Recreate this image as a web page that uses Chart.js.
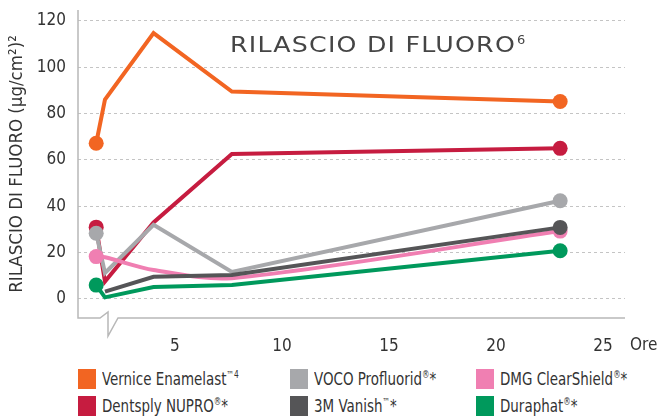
<!DOCTYPE html>
<html>
<head>
<meta charset="utf-8">
<script src="https://cdn.jsdelivr.net/npm/chart.js@4"></script>
<style>
  body { margin: 0; background: #fff; }
  #wrap { position: relative; width: 660px; height: 418px; }
  #box { position: absolute; left: 0; top: 0; width: 660px; height: 360px; }
  .leg { position: absolute; font: 18px "DejaVu Sans Condensed", sans-serif; color: #333; line-height: 20px; white-space: nowrap; }
  .leg i { position: absolute; left: 0; top: 0; width: 18px; height: 20px; }
  .leg span { position: absolute; left: 24px; top: 0; transform: scaleX(0.83); transform-origin: 0 0; }
  .leg sup { font-size: 10px; vertical-align: 7px; line-height: 0; }
</style>
</head>
<body>
<div id="wrap">
  <div id="box"><canvas id="fluoroChart"></canvas></div>
  <div id="legend"></div>
</div>
<script>
// hours after application (x positions)
const hours = [1.32, 1.73, 4, 7.66, 23];

// fluoride release per product
const vernice = [67.2, 86, 114.7, 89.5, 85.2];
const dentsply = [31, 7.5, 33, 62.6, 65];
const voco = [28.4, 11.2, 32, 11.7, 42.4];
const dmg = [18.3, 18, 12.5, 9, 29.3];
const vanish = [null, 3.2, 9.6, 10.4, 30.9];
const duraphat = [6, 0.7, 5.2, 6, 20.8];

const yTicks = [0, 20, 40, 60, 80, 100, 120];
const xTicks = [5, 10, 15, 20, 25];

const narrow = '"DejaVu Sans Condensed", sans-serif';

// series: label html, values, colour, draw order (lower = on top), tension
const series = [
  { name: 'Vernice Enamelast<sup>™4</sup>', data: vernice, color: '#f26522', order: 0, tension: 0, col: 0, row: 0 },
  { name: 'Dentsply NUPRO<sup>®</sup>*', data: dentsply, color: '#c61c40', order: 5, tension: 0, col: 0, row: 1 },
  { name: 'VOCO Profluorid<sup>®</sup>*', data: voco, color: '#a7a8ab', order: 4, tension: 0, col: 1, row: 0 },
  { name: '3M Vanish<sup>™</sup>*', data: vanish, color: '#555557', order: 2, tension: 0, col: 1, row: 1 },
  { name: 'DMG ClearShield<sup>®</sup>*', data: dmg, color: '#f07fb2', order: 3, tension: 0.3, col: 2, row: 0 },
  { name: 'Duraphat<sup>®</sup>*', data: duraphat, color: '#00995c', order: 1, tension: 0, col: 2, row: 1 }
];

function toPoints(vals) {
  return vals.map((v, i) => ({ x: hours[i], y: v }));
}

function markerSizes(vals) {
  // dots only on the first and the last hour
  return vals.map((v, i) => (v !== null && (i === 0 || i === vals.length - 1)) ? 7.5 : 0);
}

// axis line with the break near the origin, title and unit label
const decorations = {
  id: 'decorations',
  beforeDatasetsDraw(chart) {
    const ctx = chart.ctx;
    const a = chart.chartArea;
    ctx.save();
    ctx.strokeStyle = '#b8b8b8';
    ctx.lineWidth = 1.5;
    ctx.beginPath();
    ctx.moveTo(a.left, a.top);
    ctx.lineTo(a.left, a.bottom);
    ctx.lineTo(a.left + 22, a.bottom);
    ctx.lineTo(a.left + 30, a.bottom - 6);
    ctx.lineTo(a.left + 30, a.bottom + 18);
    ctx.lineTo(a.left + 40, a.bottom);
    ctx.lineTo(a.right, a.bottom);
    ctx.stroke();
    ctx.restore();
  },
  afterDraw(chart) {
    const ctx = chart.ctx;
    const a = chart.chartArea;
    ctx.save();
    ctx.fillStyle = '#454545';
    ctx.textBaseline = 'alphabetic';
    const t = 'RILASCIO DI FLUORO';
    ctx.font = '400 21px "DejaVu Sans", sans-serif';
    ctx.letterSpacing = '1px';
    // stretch the heading to the width of the original (wide geometric face)
    const w = ctx.measureText(t).width;
    const sx = 286 / w;
    ctx.save();
    ctx.translate(230, 52);
    ctx.scale(sx, 1);
    ctx.fillText(t, 0, 0);
    ctx.restore();
    ctx.font = '400 13px "DejaVu Sans", sans-serif';
    ctx.letterSpacing = '0px';
    ctx.fillText('6', 230 + 286 + 1, 44);
    // unit label after the last tick
    ctx.fillStyle = '#333';
    ctx.font = '17px ' + narrow;
    ctx.textBaseline = 'middle';
    ctx.fillText('Ore', a.right + 5, a.bottom + 28);
    ctx.restore();
  }
};

const ctx = document.getElementById('fluoroChart');

new Chart(ctx, {
  type: 'line',
  data: {
    datasets: series.map(s => ({
      label: s.name,
      data: toPoints(s.data),
      borderColor: s.color,
      backgroundColor: s.color,
      pointBackgroundColor: s.color,
      pointBorderWidth: 0,
      pointRadius: markerSizes(s.data),
      borderWidth: 4,
      tension: s.tension,
      order: s.order,
      spanGaps: false
    }))
  },
  options: {
    responsive: true,
    maintainAspectRatio: false,
    animation: false,
    events: [],
    layout: { padding: { top: 10, right: 35, left: 0, bottom: 0 } },
    plugins: {
      legend: { display: false },
      tooltip: { enabled: false }
    },
    scales: {
      x: {
        type: 'linear',
        min: 0.47,
        max: 26.03,
        afterBuildTicks: s => { s.ticks = xTicks.map(v => ({ value: v })); },
        afterFit: s => { s.height = 42; s.paddingLeft = 0; s.paddingRight = 0; },
        grid: { display: false, drawTicks: false },
        border: { display: false },
        ticks: { color: '#333', font: { family: narrow, size: 17 }, padding: 18, maxRotation: 0, autoSkip: false }
      },
      y: {
        min: -8.2,
        max: 124.7,
        afterBuildTicks: s => { s.ticks = yTicks.map(v => ({ value: v })); },
        afterFit: s => { s.width = 78; s.paddingTop = 0; s.paddingBottom = 0; },
        grid: { color: '#c4c4c4', lineWidth: 1, drawTicks: false },
        border: { display: false, dash: [3, 3] },
        ticks: { color: '#333', font: { family: narrow, size: 17 }, padding: 12 },
        title: {
          display: true,
          text: 'RILASCIO DI FLUORO (µg/cm²)²',
          color: '#333',
          font: { family: narrow, size: 18.5 },
          padding: { top: 6, bottom: 2 }
        }
      }
    }
  },
  plugins: [decorations]
});

// legend below the chart
const legendCols = [78, 290, 476];
const legendRows = [369, 396];
const legend = document.getElementById('legend');
series.forEach(s => {
  const d = document.createElement('div');
  d.className = 'leg';
  d.style.left = legendCols[s.col] + 'px';
  d.style.top = legendRows[s.row] + 'px';
  d.innerHTML = '<i style="background:' + s.color + '"></i><span>' + s.name + '</span>';
  legend.appendChild(d);
});
</script>
</body>
</html>
